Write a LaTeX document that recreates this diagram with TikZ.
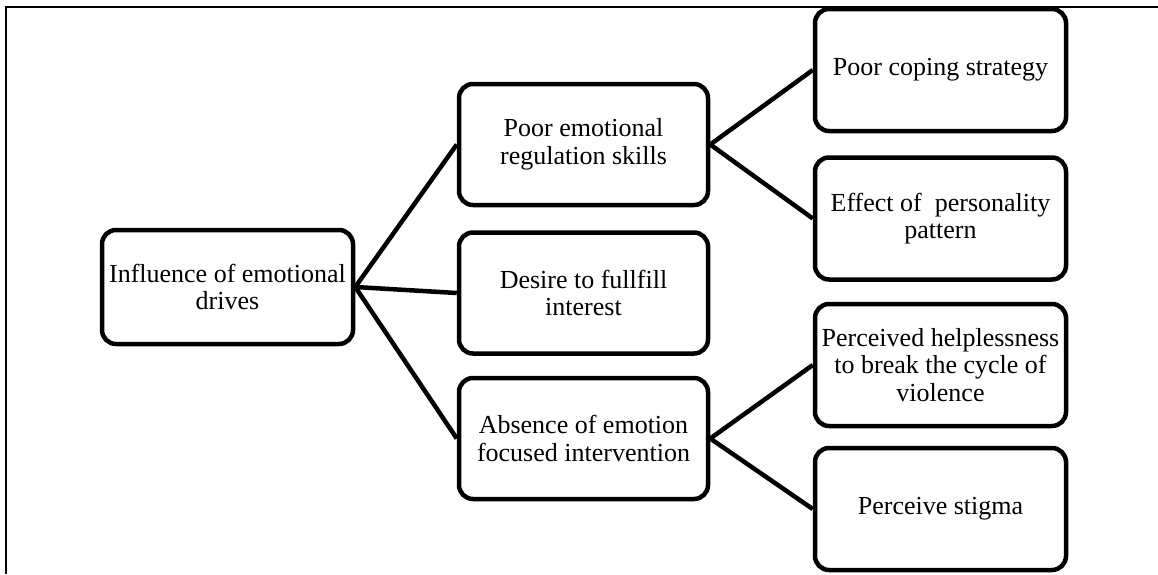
\documentclass[tikz,border=0pt]{standalone}
\usepackage{fontspec}
\setmainfont{Liberation Serif}
\begin{document}
\begin{tikzpicture}[x=1pt,y=-1pt,
  box/.style={draw=black, line width=4.5pt, rounded corners=14pt, align=center,
    inner sep=0pt, font=\fontsize{26}{27.5}\selectfont},
  rootbox/.style={box, minimum width=251pt, minimum height=114pt},
  midbox/.style={box, minimum width=249pt, minimum height=121pt},
  leafbox/.style={box, minimum width=251pt, minimum height=122pt},
  link/.style={line width=4.5pt},
  frame/.style={line width=2pt}]
\useasboundingbox (0,0) rectangle (1158,574);
\coordinate (fa) at (6,574);
\coordinate (fb) at (6,7);
\coordinate (fc) at (1158,7);
\draw[frame] (fa) -- (fb) -- (fc);

\node[rootbox] (root) at (227.5,287) {Influence of emotional\\drives};
\node[midbox] (m1) at (583.5,144.5) {Poor emotional\\regulation skills};
\node[midbox] (m2) at (583.5,293) {Desire to fullfill\\interest};
\node[midbox] (m3) at (583.5,438.5) {Absence of emotion\\focused intervention};
\node[leafbox] (r1) at (940.5,70) {Poor coping strategy};
\node[leafbox] (r2) at (940.5,218.5) {Effect of\ \ personality\\pattern};
\node[leafbox] (r3) at (940.5,365) {Perceived helplessness\\to break the cycle of\\violence};
\node[leafbox] (r4) at (940.5,509) {Perceive stigma};

\draw[link] (root.east) -- (m1.west);
\draw[link] (root.east) -- (m2.west);
\draw[link] (root.east) -- (m3.west);
\draw[link] (m1.east) -- (r1.west);
\draw[link] (m1.east) -- (r2.west);
\draw[link] (m3.east) -- (r3.west);
\draw[link] (m3.east) -- (r4.west);
\end{tikzpicture}
\end{document}
